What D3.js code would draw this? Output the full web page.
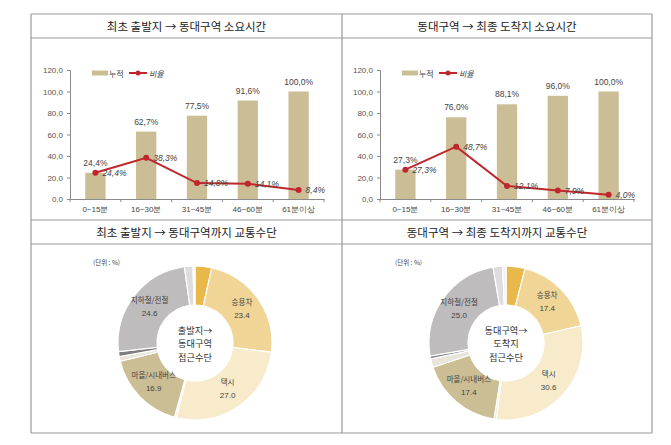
<!DOCTYPE html>
<html>
<head>
<meta charset="utf-8">
<script src="https://cdn.jsdelivr.net/npm/d3@7"></script>
<style>
  html, body { margin: 0; padding: 0; background: #fff; }
  svg { display: block; font-family: "Noto Sans CJK KR", "Noto Sans", sans-serif; }
</style>
</head>
<body>
<svg id="chart" width="671" height="445"></svg>
<script>
// ---------- DATA ----------
const categories = ["0~15분", "16~30분", "31~45분", "46~60분", "61분이상"];
const cumulative1 = [24.4, 62.7, 77.5, 91.6, 100.0];
const ratio1 = [24.4, 38.3, 14.8, 14.1, 8.4];
const cumulative2 = [27.3, 76.0, 88.1, 96.0, 100.0];
const ratio2 = [27.3, 48.7, 12.1, 7.9, 4.0];
const yTicks = [0, 20, 40, 60, 80, 100, 120];
const legendLabels = ["누적", "비율"];

const modeNames = ["도보", "승용차", "택시", "오토바이", "마을/시내버스", "시외버스", "통근버스", "지하철/전철", "자전거", "기타"];
const modeShare1 = [3.5, 23.4, 27.0, 0.4, 16.9, 1.0, 1.0, 24.6, 1.8, 0.4];
const modeShare2 = [4.0, 17.4, 30.6, 0.5, 17.4, 1.8, 0.6, 25.0, 2.0, 0.7];
const labeledModes = ["승용차", "택시", "마을/시내버스", "지하철/전철"];

const titles = [
  "최초 출발지 → 동대구역 소요시간",
  "동대구역 → 최종 도착지 소요시간",
  "최초 출발지 → 동대구역까지 교통수단",
  "동대구역 → 최종 도착지까지 교통수단"
];
const centerText1 = ["출발지→", "동대구역", "접근수단"];
const centerText2 = ["동대구역→", "도착지", "접근수단"];
const unitText = "(단위 : %)";

// ---------- STYLE ----------
const sliceColors = ["#E8B84A", "#F0D596", "#F7EBCC", "#EEE8D6", "#CBBE94", "#E9E5DA", "#7E7E7E", "#BEBCBC", "#DEDDDD", "#F1F1F1"];
const barColor = "#CBBE96";
const lineColor = "#C0272D";
const borderColor = "#9A9A9A";

const svg = d3.select("#chart");

// ---------- TABLE FRAME ----------
const tbl = { left: 31, mid: 342, right: 652, rows: [14, 38, 220, 244, 433] };
const frame = svg.append("g").attr("stroke", borderColor).attr("stroke-width", 1.2).attr("fill", "none");
tbl.rows.forEach(y => frame.append("line").attr("x1", tbl.left).attr("x2", tbl.right).attr("y1", y).attr("y2", y));
[tbl.left, tbl.mid, tbl.right].forEach(x => frame.append("line").attr("x1", x).attr("x2", x).attr("y1", tbl.rows[0]).attr("y2", tbl.rows[4]));

const titlePos = [
  [(tbl.left + tbl.mid) / 2, (tbl.rows[0] + tbl.rows[1]) / 2],
  [(tbl.mid + tbl.right) / 2, (tbl.rows[0] + tbl.rows[1]) / 2],
  [(tbl.left + tbl.mid) / 2, (tbl.rows[2] + tbl.rows[3]) / 2],
  [(tbl.mid + tbl.right) / 2, (tbl.rows[2] + tbl.rows[3]) / 2]
];
titles.forEach((t, i) => {
  svg.append("text").attr("x", titlePos[i][0]).attr("y", titlePos[i][1])
    .attr("text-anchor", "middle").attr("dominant-baseline", "central")
    .attr("font-size", 11.5).attr("fill", "#222").text(t);
});

const fmt = d => d3.format(".1f")(d).replace(".", ",");

// ---------- BAR + LINE CHART ----------
function comboChart(x0, x1, cum, ratio) {
  const g = svg.append("g");
  const x = d3.scaleBand().domain(categories).range([x0, x1]).padding(0);
  const y = d3.scaleLinear().domain([0, 120]).range([199, 70]);
  const bw = x.bandwidth() * 0.4;

  // y axis
  const ya = g.append("g").attr("transform", `translate(${x0},0)`)
    .call(d3.axisLeft(y).tickValues(yTicks).tickSize(3).tickPadding(4).tickFormat(fmt));
  ya.selectAll("path, line").attr("stroke", "#8a8a8a");
  ya.selectAll("text").attr("font-size", 8).attr("fill", "#555").attr("font-family", "Liberation Sans, Arial, sans-serif");

  // bars
  g.selectAll(".bar").data(cum).join("rect")
    .attr("x", (d, i) => x(categories[i]) + x.bandwidth() / 2 - bw / 2)
    .attr("y", d => y(d)).attr("width", bw).attr("height", d => y(0) - y(d))
    .attr("fill", barColor);

  // x axis
  const xa = g.append("g").attr("transform", `translate(0,${y(0)})`)
    .call(d3.axisBottom(x).tickSize(0).tickPadding(7));
  xa.select(".domain").attr("stroke", "#8a8a8a");
  xa.selectAll("text").attr("font-size", 8).attr("fill", "#444");
  const bounds = categories.map(c => x(c)).concat([x1]);
  g.selectAll(".xt").data(bounds).join("line")
    .attr("x1", d => d).attr("x2", d => d).attr("y1", y(0)).attr("y2", y(0) + 3)
    .attr("stroke", "#8a8a8a");

  // cumulative labels
  g.selectAll(".cl").data(cum).join("text")
    .attr("x", (d, i) => x(categories[i]) + x.bandwidth() / 2)
    .attr("y", d => y(d) - 7)
    .attr("text-anchor", "middle").attr("font-size", 8.5).attr("fill", "#444")
    .attr("font-family", "Liberation Sans, Arial, sans-serif")
    .text(d => fmt(d) + "%");

  // line
  const line = d3.line().x((d, i) => x(categories[i]) + x.bandwidth() / 2).y(d => y(d));
  g.append("path").datum(ratio).attr("d", line).attr("fill", "none")
    .attr("stroke", lineColor).attr("stroke-width", 2);
  g.selectAll(".pt").data(ratio).join("circle")
    .attr("cx", (d, i) => x(categories[i]) + x.bandwidth() / 2).attr("cy", d => y(d))
    .attr("r", 3).attr("fill", lineColor);
  g.selectAll(".rl").data(ratio).join("text")
    .attr("x", (d, i) => x(categories[i]) + x.bandwidth() / 2 + 7)
    .attr("y", d => y(d)).attr("dominant-baseline", "central")
    .attr("font-size", 8.5).attr("font-style", "italic").attr("fill", "#444")
    .attr("font-family", "Liberation Sans, Arial, sans-serif")
    .text(d => fmt(d) + "%");

  // legend
  const lx = x0 + 22, ly = 73;
  g.append("rect").attr("x", lx).attr("y", ly - 2.5).attr("width", 16).attr("height", 5).attr("fill", barColor);
  g.append("text").attr("x", lx + 17).attr("y", ly).attr("dominant-baseline", "central")
    .attr("font-size", 8).attr("fill", "#444").text(legendLabels[0]);
  g.append("line").attr("x1", lx + 37).attr("x2", lx + 55).attr("y1", ly).attr("y2", ly)
    .attr("stroke", lineColor).attr("stroke-width", 2);
  g.append("circle").attr("cx", lx + 46).attr("cy", ly).attr("r", 2.5).attr("fill", lineColor);
  g.append("text").attr("x", lx + 57).attr("y", ly).attr("dominant-baseline", "central")
    .attr("font-size", 8).attr("font-style", "italic").attr("fill", "#444").text(legendLabels[1]);
}

comboChart(70, 324, cumulative1, ratio1);
comboChart(380, 634, cumulative2, ratio2);

// ---------- DONUTS ----------
function donut(cx, cy, shares, centerLines, unitX) {
  const g = svg.append("g").attr("transform", `translate(${cx},${cy})`);
  const data = shares.map((v, i) => ({ name: modeNames[i], value: v, color: sliceColors[i] }));
  const pie = d3.pie().value(d => d.value).sort(null);
  const arc = d3.arc().innerRadius(38).outerRadius(77);
  const arcs = pie(data);
  g.selectAll("path").data(arcs).join("path")
    .attr("d", arc).attr("fill", d => d.data.color)
    .attr("stroke", "#fff").attr("stroke-width", 1.2);

  const lab = g.selectAll(".lab").data(arcs.filter(a => labeledModes.includes(a.data.name))).join("text")
    .attr("text-anchor", "middle").attr("fill", "#444").attr("font-size", 8);
  lab.append("tspan").attr("x", d => arc.centroid(d)[0]).attr("y", d => arc.centroid(d)[1] - 5)
    .attr("font-size", 7.5).text(d => d.data.name);
  lab.append("tspan").attr("x", d => arc.centroid(d)[0]).attr("y", d => arc.centroid(d)[1] + 8)
    .attr("font-family", "Liberation Sans, Arial, sans-serif").text(d => d.data.value.toFixed(1));

  g.selectAll(".ct").data(centerLines).join("text")
    .attr("x", 0).attr("y", (d, i) => (i - 1) * 13.5)
    .attr("text-anchor", "middle").attr("dominant-baseline", "central")
    .attr("font-size", 9.2).attr("fill", "#333").text(d => d);

  svg.append("text").attr("x", unitX).attr("y", 265).attr("font-size", 6.5).attr("fill", "#444").text(unitText);
}

donut(195, 343, modeShare1, centerText1, 93);
donut(506, 343, modeShare2, centerText2, 395);
</script>
</body>
</html>
